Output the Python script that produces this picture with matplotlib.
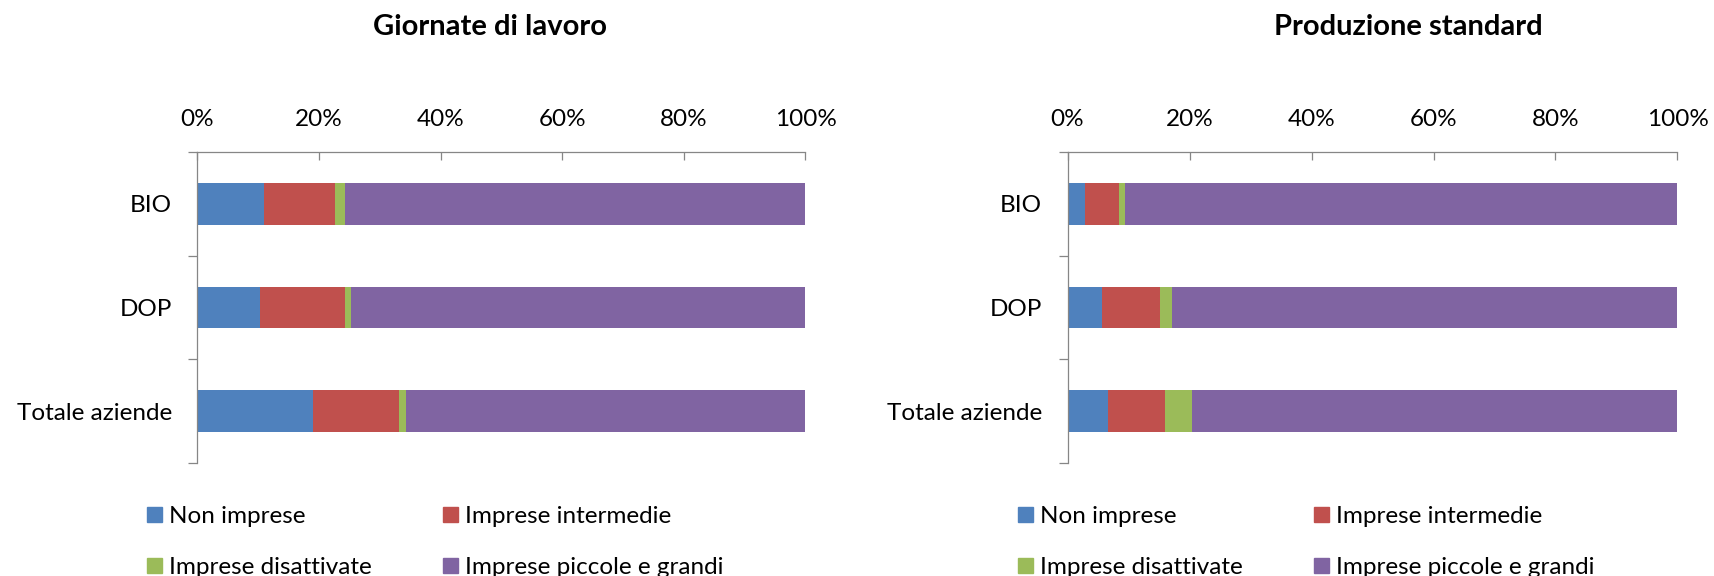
import matplotlib.pyplot as plt
import numpy as np
from matplotlib.patches import Patch

# dati (percentuali)
categorie = ['BIO', 'DOP', 'Totale aziende']
serie = ['Non imprese', 'Imprese intermedie', 'Imprese disattivate', 'Imprese piccole e grandi']
colori = ['#4F81BD', '#C0504D', '#9BBB59', '#8064A2']

giornate_non_imprese = [10.9, 10.3, 19.0]
giornate_intermedie = [11.7, 13.9, 14.2]
giornate_disattivate = [1.7, 1.0, 1.1]
giornate_piccole_grandi = [75.7, 74.8, 65.7]

produzione_non_imprese = [2.8, 5.6, 6.7]
produzione_intermedie = [5.7, 9.6, 9.3]
produzione_disattivate = [0.9, 2.0, 4.4]
produzione_piccole_grandi = [90.6, 82.8, 79.6]

tick_x = [0, 20, 40, 60, 80, 100]

plt.rcParams['font.family'] = ['Lato', 'DejaVu Sans']
grigio = '#868686'
W, H = 1715, 576


def barre_100(ax, valori):
    dati = np.array(valori, dtype=float)
    dati = dati / dati.sum(axis=0) * 100
    y = np.arange(len(categorie))
    sinistra = np.zeros(len(categorie))
    for riga, colore in zip(dati, colori):
        ax.barh(y, riga, left=sinistra, height=0.4, color=colore, edgecolor='none')
        sinistra += riga
    ax.set_xlim(0, 100)
    ax.set_ylim(len(categorie) - 0.5, -0.5)
    ax.xaxis.tick_top()
    ax.set_xticks(tick_x)
    ax.set_xticklabels([f'{t}%' for t in tick_x])
    ax.tick_params(axis='x', direction='in', length=5.5, width=0.9, color=grigio,
                   labelsize=17.5, pad=15.5)
    ax.set_yticks(np.arange(len(categorie) + 1) - 0.5)
    ax.set_yticklabels([])
    ax.set_yticks(y, minor=True)
    ax.set_yticklabels(categorie, minor=True)
    ax.tick_params(axis='y', which='major', direction='out', length=6.5, width=0.9, color=grigio)
    ax.tick_params(axis='y', which='minor', length=0, labelsize=17.5, pad=18.5)
    for lato in ['bottom', 'right']:
        ax.spines[lato].set_visible(False)
    for lato in ['top', 'left']:
        ax.spines[lato].set_color(grigio)
        ax.spines[lato].set_linewidth(0.9)


def legenda(ax, x_px):
    maniglie = [Patch(color=c) for c in colori]
    ordine = [0, 2, 1, 3]
    ax.legend([maniglie[i] for i in ordine], [serie[i] for i in ordine], ncol=2,
              loc='upper left', bbox_to_anchor=(x_px / W, 1 - 506 / H),
              bbox_transform=ax.figure.transFigure, frameon=False, fontsize=17.5,
              handlelength=0.62, handleheight=0.62, handletextpad=0.3,
              columnspacing=2.9, labelspacing=1.24, borderpad=0, borderaxespad=0)


fig = plt.figure(figsize=(W / 100, H / 100), dpi=100)
ax1 = fig.add_axes([197.5 / W, 1 - 463 / H, 608 / W, 311 / H])
ax2 = fig.add_axes([1067.5 / W, 1 - 463 / H, 610 / W, 311 / H])

barre_100(ax1, [giornate_non_imprese, giornate_intermedie, giornate_disattivate, giornate_piccole_grandi])
barre_100(ax2, [produzione_non_imprese, produzione_intermedie, produzione_disattivate, produzione_piccole_grandi])
legenda(ax1, 147)
legenda(ax2, 1018)

fig.text(490 / W, 1 - 35 / H, 'Giornate di lavoro', ha='center', va='baseline',
         fontsize=21, fontweight='bold')
fig.text(1408 / W, 1 - 35 / H, 'Produzione standard', ha='center', va='baseline',
         fontsize=21, fontweight='bold')

fig.savefig('out.png', dpi=100)
